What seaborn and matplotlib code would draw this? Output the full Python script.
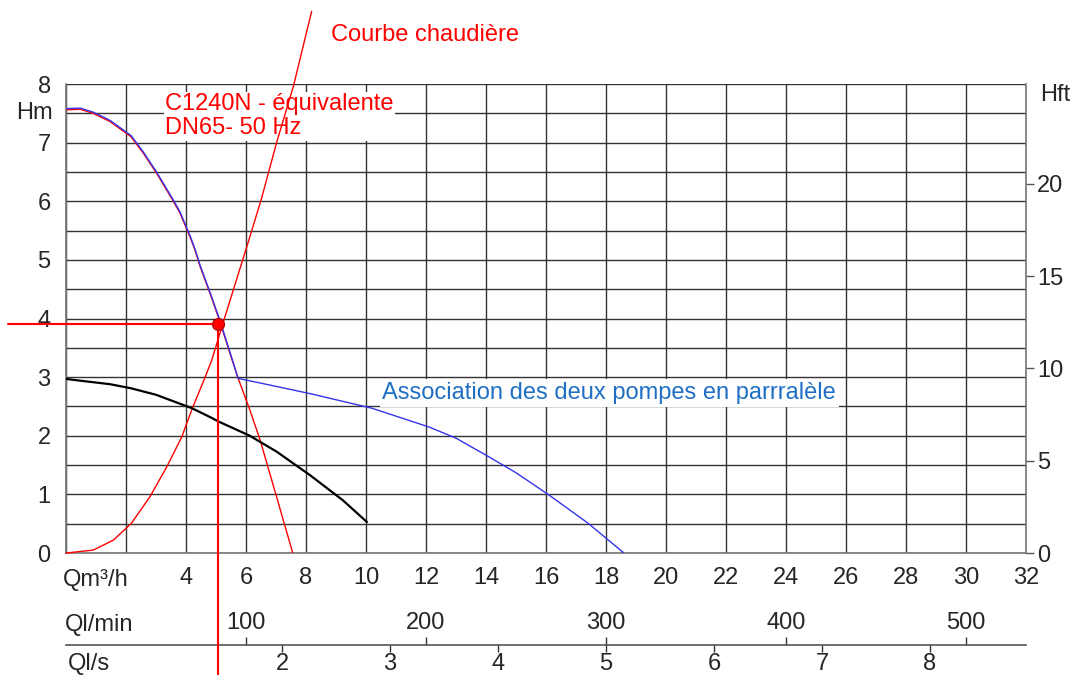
import numpy as np
import matplotlib
matplotlib.use('Agg')
import matplotlib.pyplot as plt
import seaborn as sns

# pump curve C1240N (m3/h, m)
q_pump = [0.0, 0.47, 0.91, 1.47, 2.17, 2.58, 3.02, 3.58, 3.8, 4.13, 4.3, 4.47, 4.8, 5.13, 5.52, 5.74,
          6.13, 6.47, 7.02, 7.56]
h_pump = [7.56, 7.57, 7.5, 7.36, 7.10, 6.82, 6.48, 6.0, 5.8, 5.4, 5.17, 4.89, 4.43, 3.95, 3.32, 2.98,
          2.44, 1.93, 0.96, 0.0]

# two pumps in parallel (follows pump curve down to the knee)
q_assoc = [0.0, 0.47, 0.91, 1.47, 2.17, 2.58, 3.02, 3.58, 3.8, 4.13, 4.3, 4.47, 4.8, 5.13, 5.52, 5.74,
           8.13, 10.2, 12.1, 13.0, 14.0, 15.0, 16.1, 17.4, 18.6]
h_assoc = [7.58, 7.59, 7.52, 7.38, 7.12, 6.84, 6.5, 6.02, 5.82, 5.42, 5.19, 4.91, 4.45, 3.97, 3.34, 2.98,
           2.72, 2.47, 2.15, 1.96, 1.67, 1.37, 0.99, 0.51, 0.0]

# single small pump (black)
q_single = [0.0, 0.47, 1.47, 2.17, 3.0, 4.2, 4.8, 5.1, 6.13, 7.02, 8.13, 9.23, 10.03]
h_single = [2.97, 2.94, 2.88, 2.81, 2.70, 2.47, 2.32, 2.24, 2.0, 1.73, 1.33, 0.90, 0.53]

# boiler system curve
q_boiler = [0.0, 0.91, 1.58, 2.17, 2.8, 3.36, 3.86, 4.19, 4.6, 4.86, 5.3, 5.58, 6.08, 6.52, 7.02, 7.58, 8.19]
h_boiler = [0.0, 0.05, 0.22, 0.50, 0.96, 1.47, 1.98, 2.44, 2.95, 3.29, 4.03, 4.49, 5.31, 6.05, 7.0, 7.96, 9.24]

# operating point
op_q, op_h = 5.07, 3.91

q_ticks = list(range(0, 34, 2))
q_labels = ['', ''] + [str(v) for v in range(4, 34, 2)]
hm_ticks = list(range(0, 9))
hft_ticks = [0, 5, 10, 15, 20]
lmin_ticks = [100, 200, 300, 400, 500]
ls_ticks = [2, 3, 4, 5, 6, 7, 8]

FS = 17

sns.set_style('white')
plt.rcParams['font.family'] = ['Liberation Sans', 'DejaVu Sans']
plt.rcParams['font.size'] = FS

fig = plt.figure(figsize=(10.76, 6.75), dpi=100)
ax = fig.add_axes([0.0613, 0.1807, 0.8922, 0.6948])

ax.set_xlim(0, 32)
ax.set_ylim(0, 8)
ax.set_xticks(q_ticks)
ax.set_xticklabels(q_labels)
ax.set_yticks(hm_ticks)
ax.set_yticks(np.arange(0.5, 8, 1.0), minor=True)
ax.tick_params(axis='x', length=0, pad=10, labelsize=FS)
ax.tick_params(axis='y', which='both', length=0, pad=11, labelsize=FS)
ax.grid(True, which='both', color='#333333', linewidth=1.0)
ax.set_axisbelow(True)
for s in ['top', 'right']:
    ax.spines[s].set_visible(False)
for s in ['left', 'bottom']:
    ax.spines[s].set_color('#777777')
    ax.spines[s].set_linewidth(1.2)

# curves
sns.lineplot(x=q_boiler, y=h_boiler, ax=ax, color='#ff0000', linewidth=1.0, clip_on=False, zorder=3)
sns.lineplot(x=q_pump, y=h_pump, ax=ax, color='#ff0000', linewidth=1.0, zorder=3)
sns.lineplot(x=q_assoc, y=h_assoc, ax=ax, color='#3333ee', linewidth=1.0, zorder=4)
sns.lineplot(x=q_single, y=h_single, ax=ax, color='black', linewidth=1.6, zorder=3)

# operating point guides
ax.axhline(op_h, xmin=-0.06, xmax=op_q / 32, color='#ff0000', linewidth=1.5, clip_on=False, zorder=5)
ax.axvline(op_q, ymin=-0.26, ymax=op_h / 8, color='#ff0000', linewidth=1.5, clip_on=False, zorder=5)
ax.scatter([op_q], [op_h], s=75, color='#ff0000', edgecolor='#aa0000', linewidth=0.8, zorder=6, clip_on=False)

# annotations
ax.text(3.3, 7.45, 'C1240N - équivalente\nDN65- 50 Hz', color='#ff0000', fontsize=FS,
        ha='left', va='center', linespacing=1.1, zorder=1.5,
        bbox=dict(facecolor='white', edgecolor='none', pad=1.0))
ax.text(10.55, 2.73, 'Association des deux pompes en parrralèle', color='#1f6fc5', fontsize=FS,
        ha='left', va='center', zorder=1.5,
        bbox=dict(facecolor='white', edgecolor='none', pad=2.0))
ax.text(11.97, 8.84, 'Courbe chaudière', color='#ff0000', fontsize=FS, ha='center', va='center')
ax.text(-0.033, 0.938, 'Hm', transform=ax.transAxes, ha='center', va='center', fontsize=FS)
ax.text(1.03, 0.977, 'Hft', transform=ax.transAxes, ha='center', va='center', fontsize=FS)

# right axis in feet
ax2 = ax.twinx()
ax2.set_ylim(0, 25.4)
ax2.set_yticks(hft_ticks)
ax2.tick_params(axis='y', length=6, width=1, color='#555555', pad=2, labelsize=FS, right=True, left=False)
ax2.grid(False)
for s in ['top', 'left', 'bottom']:
    ax2.spines[s].set_visible(False)
ax2.spines['right'].set_color('#777777')
ax2.spines['right'].set_linewidth(1.2)

# flow scales below
loc = -0.1962
sec_min = ax.secondary_xaxis(loc, functions=(lambda q: q * 1000 / 60, lambda v: v * 60 / 1000))
sec_min.set_alignment('top')
sec_min.set_xticks(lmin_ticks)
sec_min.tick_params(length=6, width=1, color='#333333', pad=2, labelsize=FS)
sec_min.spines['top'].set_color('#555555')
sec_min.spines['top'].set_linewidth(1.2)

sec_s = ax.secondary_xaxis(loc, functions=(lambda q: q / 3.6, lambda v: v * 3.6))
sec_s.set_alignment('bottom')
sec_s.set_xticks(ls_ticks)
sec_s.tick_params(length=5, width=1, color='#333333', pad=0.5, labelsize=FS)
sec_s.spines['bottom'].set_visible(False)

ax.text(-0.003, -0.058, 'Qm³/h', transform=ax.transAxes, ha='left', va='center', fontsize=FS)
ax.text(-0.001, -0.154, 'Ql/min', transform=ax.transAxes, ha='left', va='center', fontsize=FS)
ax.text(0.002, -0.236, 'Ql/s', transform=ax.transAxes, ha='left', va='center', fontsize=FS)

fig.savefig('out.png', dpi=100)
